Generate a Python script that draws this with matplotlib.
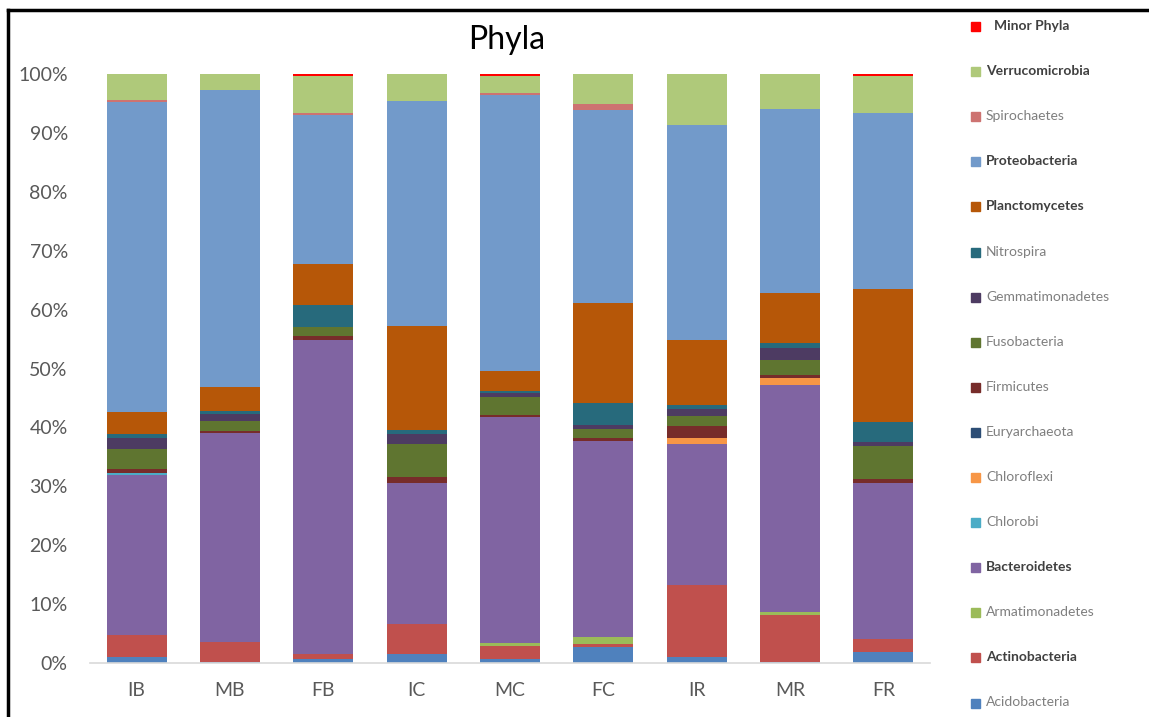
import numpy as np
import matplotlib.pyplot as plt
from matplotlib.patches import Rectangle
from matplotlib.lines import Line2D

plt.rcParams['font.family'] = ['Lato', 'DejaVu Sans']

samples = ['IB', 'MB', 'FB', 'IC', 'MC', 'FC', 'IR', 'MR', 'FR']

# percent of reads per phylum, bottom to top of stack
acidobacteria    = [1.0, 0.2, 0.6, 1.6, 0.6, 2.7, 1.0, 0.1, 1.9]
actinobacteria   = [3.7, 3.4, 1.0, 5.0, 2.3, 0.6, 12.3, 8.1, 2.1]
armatimonadetes  = [0.0, 0.0, 0.0, 0.0, 0.45, 1.1, 0.0, 0.45, 0.0]
bacteroidetes    = [27.3, 35.5, 53.2, 23.9, 38.4, 33.4, 23.9, 38.6, 26.5]
chlorobi         = [0.3, 0.0, 0.0, 0.0, 0.0, 0.0, 0.0, 0.0, 0.0]
chloroflexi      = [0.0, 0.0, 0.0, 0.0, 0.0, 0.0, 1.0, 1.2, 0.0]
euryarchaeota    = [0.0, 0.0, 0.0, 0.0, 0.0, 0.0, 0.0, 0.0, 0.0]
firmicutes       = [0.7, 0.35, 0.7, 1.0, 0.4, 0.4, 2.0, 0.45, 0.7]
fusobacteria     = [3.4, 1.7, 1.6, 5.7, 3.0, 1.6, 1.7, 2.5, 5.65]
gemmatimonadetes = [1.9, 1.1, 0.0, 1.7, 0.7, 0.7, 1.25, 2.0, 0.55]
nitrospira       = [0.7, 0.6, 3.6, 0.6, 0.3, 3.7, 0.7, 1.0, 3.4]
planctomycetes   = [3.6, 4.0, 7.1, 17.7, 3.4, 17.0, 11.0, 8.4, 22.6]
proteobacteria   = [52.8, 50.5, 25.3, 38.2, 46.9, 32.8, 36.4, 31.2, 29.9]
spirochaetes     = [0.3, 0.0, 0.3, 0.0, 0.4, 1.0, 0.0, 0.0, 0.0]
verrucomicrobia  = [4.4, 2.7, 6.3, 4.6, 2.8, 5.1, 8.7, 6.0, 6.3]
minor_phyla      = [0.0, 0.0, 0.3, 0.0, 0.4, 0.0, 0.0, 0.0, 0.3]

phyla = ['Acidobacteria', 'Actinobacteria', 'Armatimonadetes', 'Bacteroidetes',
         'Chlorobi', 'Chloroflexi', 'Euryarchaeota', 'Firmicutes', 'Fusobacteria',
         'Gemmatimonadetes', 'Nitrospira', 'Planctomycetes', 'Proteobacteria',
         'Spirochaetes', 'Verrucomicrobia', 'Minor Phyla']
series = [acidobacteria, actinobacteria, armatimonadetes, bacteroidetes,
          chlorobi, chloroflexi, euryarchaeota, firmicutes, fusobacteria,
          gemmatimonadetes, nitrospira, planctomycetes, proteobacteria,
          spirochaetes, verrucomicrobia, minor_phyla]
colors = ['#4f81bd', '#c0504d', '#9bbb59', '#8064a2', '#4bacc6', '#f79646',
          '#2c4d75', '#772c2a', '#5f7530', '#4d3b62', '#276a7c', '#b65708',
          '#729aca', '#cd7371', '#afc97a', '#ff0000']
bold = {'Minor Phyla', 'Verrucomicrobia', 'Proteobacteria', 'Planctomycetes',
        'Bacteroidetes', 'Actinobacteria'}

fig = plt.figure(figsize=(11.49, 7.17), dpi=100)
ax = fig.add_axes([90 / 1149, 54 / 717, 840 / 1149, 589 / 717])

x = np.arange(len(samples))
data = np.array(series, dtype=float)
data = data / data.sum(axis=0)  # 100% stacked
bottom = np.zeros(len(samples))
for vals, c in zip(data, colors):
    ax.bar(x, vals, 0.645, bottom=bottom, color=c, edgecolor='none')
    bottom += vals

ax.set_xlim(-0.5, len(samples) - 0.5)
ax.set_ylim(0, 1)
ax.set_yticks(np.arange(0, 1.01, 0.1))
ax.set_yticklabels([f'{int(round(v * 100))}%' for v in np.arange(0, 1.01, 0.1)])
ax.set_xticks(x)
ax.set_xticklabels(samples)
ax.tick_params(length=0, labelsize=14, colors='#595959')
ax.tick_params(axis='y', pad=16)
ax.tick_params(axis='x', pad=14)
for s in ['top', 'right', 'left']:
    ax.spines[s].set_visible(False)
ax.spines['bottom'].set_color('#d9d9d9')
ax.spines['bottom'].set_linewidth(1.2)

fig.text(507 / 1149, 1 - 40 / 717, 'Phyla', ha='center', va='center',
         fontsize=23, color='black')

# legend, top entry is the last series
y0, step = 26, 45.1
for i, (name, c) in enumerate(zip(phyla[::-1], colors[::-1])):
    yy = y0 + i * step
    fig.patches.append(Rectangle((971 / 1149, 1 - (yy + 5) / 717), 9 / 1149, 9 / 717,
                                 transform=fig.transFigure, color=c))
    isb = name in bold
    xt = 994 if name == 'Minor Phyla' else 986
    fig.text(xt / 1149, 1 - yy / 717, name, ha='left', va='center', fontsize=10,
             fontweight='bold' if isb else 'normal',
             color='#404040' if isb else '#7f7f7f')

# outer frame (top and left edges visible in the original crop)
fig.add_artist(Line2D([8 / 1149, 1], [1 - 10 / 717, 1 - 10 / 717],
                      transform=fig.transFigure, color='black', lw=2.5))
fig.add_artist(Line2D([8 / 1149, 8 / 1149], [0, 1 - 10 / 717],
                      transform=fig.transFigure, color='black', lw=2.5))

fig.savefig('out.png', dpi=100)
